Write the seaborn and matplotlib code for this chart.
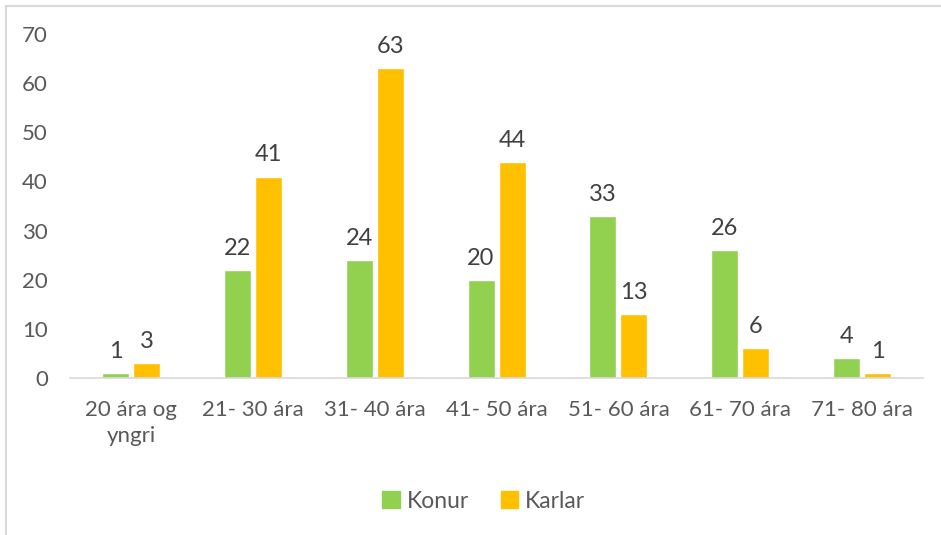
import pandas as pd
import matplotlib.pyplot as plt
import matplotlib.patches as mpatches
import seaborn as sns

# data
categories = ["20 ára og\nyngri", "21- 30 ára", "31- 40 ára", "41- 50 ára",
              "51- 60 ára", "61- 70 ára", "71- 80 ára"]
konur = [1, 22, 24, 20, 33, 26, 4]
karlar = [3, 41, 63, 44, 13, 6, 1]
series = ["Konur", "Karlar"]
colors = ["#92D050", "#FFC000"]

df = pd.DataFrame({
    "cat": categories * 2,
    "value": konur + karlar,
    "series": [series[0]] * len(categories) + [series[1]] * len(categories),
})

sns.set_style("white")
plt.rcParams['font.family'] = ['Lato', 'DejaVu Sans']
text_color = "#595959"

fig = plt.figure(figsize=(9.41, 5.35), dpi=100)
ax = fig.add_axes([0.0744, 0.2935, 0.9066, 0.6429])

sns.barplot(data=df, x="cat", y="value", hue="series", palette=colors,
            width=0.51, gap=0.13, ax=ax, legend=False, saturation=1)

for cont in ax.containers:
    ax.bar_label(cont, fontsize=17, color="#404040", padding=8)

ax.set_ylim(0, 70)
ax.set_yticks(range(0, 71, 10))
ax.set_xlim(-0.5, len(categories) - 0.5)
ax.set_xlabel("")
ax.set_ylabel("")
ax.tick_params(axis="both", length=0, labelsize=16, labelcolor=text_color)
ax.tick_params(axis="y", pad=16)
ax.tick_params(axis="x", pad=16)
for lbl in ax.get_xticklabels():
    lbl.set_linespacing(1.35)

sns.despine(ax=ax, left=True)
ax.spines["bottom"].set_color("#D9D9D9")
ax.spines["bottom"].set_linewidth(1.2)

handles = [mpatches.Patch(color=c, label=s) for s, c in zip(series, colors)]
fig.legend(handles=handles, loc="center", bbox_to_anchor=(0.514, 0.063), ncol=2,
           frameon=False, fontsize=16.5, labelcolor=text_color,
           handlelength=0.75, handleheight=0.75, handletextpad=0.3, columnspacing=1.4)

# chart border (left and top visible in the reference)
fig.add_artist(plt.Line2D([0.0064, 0.0064], [0, 0.989], color="#D9D9D9", lw=1.5))
fig.add_artist(plt.Line2D([0.0064, 1], [0.989, 0.989], color="#D9D9D9", lw=1.5))

fig.savefig("out.png", dpi=100)
